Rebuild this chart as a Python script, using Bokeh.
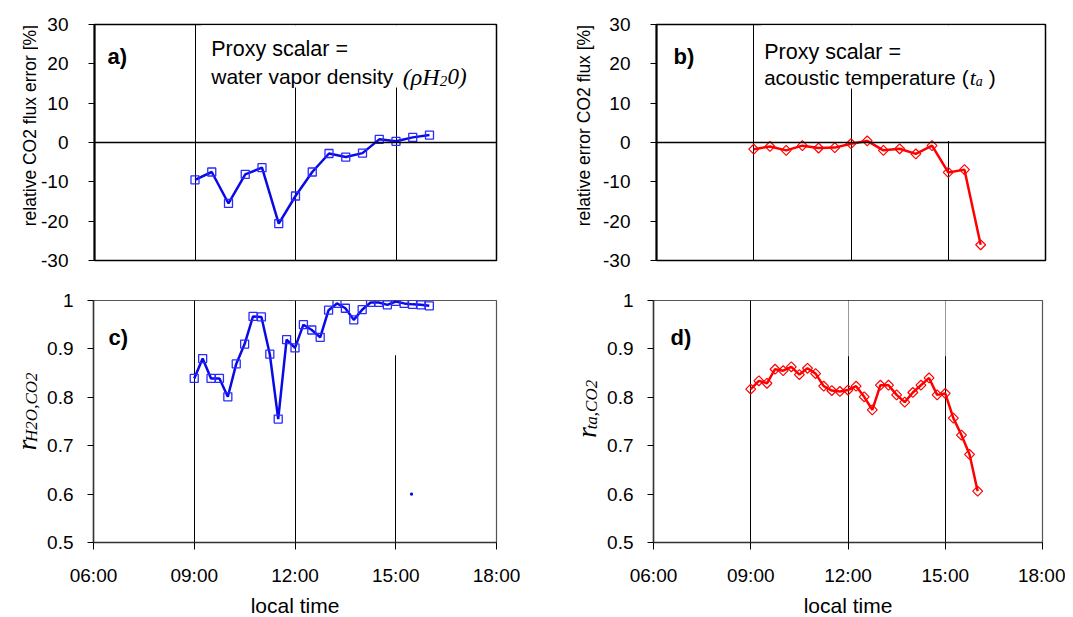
import math
from bokeh.plotting import figure
from bokeh.layouts import column, row
from bokeh.models import Range1d, FixedTicker, Span, Label, BoxAnnotation, NumeralTickFormatter
from bokeh.embed import file_html
from bokeh.resources import INLINE

# ---------------- data ----------------
hours_half = [9.0, 9.5, 10.0, 10.5, 11.0, 11.5, 12.0, 12.5, 13.0, 13.5, 14.0, 14.5, 15.0, 15.5, 16.0]
err_h2o = [-9.5, -7.5, -15.5, -8.1, -6.4, -20.6, -13.6, -7.5, -2.8, -3.7, -2.7, 0.8, 0.3, 1.3, 1.9]
err_ta = [-1.7, -1.0, -2.0, -0.8, -1.4, -1.3, -0.3, 0.4, -2.0, -1.6, -2.9, -0.8, -7.6, -6.9, -26.0]

hours_quarter = [9.0, 9.25, 9.5, 9.75, 10.0, 10.25, 10.5, 10.75, 11.0, 11.25, 11.5, 11.75,
                 12.0, 12.25, 12.5, 12.75, 13.0, 13.25, 13.5, 13.75, 14.0, 14.25, 14.5, 14.75,
                 15.0, 15.25, 15.5, 15.75, 16.0]
r_h2o = [0.839, 0.880, 0.839, 0.839, 0.801, 0.869, 0.910, 0.967, 0.966, 0.889, 0.755, 0.919,
         0.902, 0.950, 0.939, 0.924, 0.980, 0.994, 0.984, 0.960, 0.981, 0.996, 0.996, 0.991,
         0.998, 0.994, 0.992, 0.991, 0.989]
r_ta = [0.817, 0.834, 0.829, 0.858, 0.855, 0.863, 0.847, 0.860, 0.849, 0.823, 0.814, 0.812,
        0.815, 0.823, 0.801, 0.774, 0.825, 0.825, 0.805, 0.790, 0.810, 0.825, 0.840, 0.805,
        0.808, 0.757, 0.722, 0.682, 0.606]
stray_hour = [15.47]
stray_r = [0.6]

time_ticks = [6, 9, 12, 15, 18]
time_labels = ["06:00", "09:00", "12:00", "15:00", "18:00"]
grid_hours = [9, 12, 15]
err_ticks = [-30, -20, -10, 0, 10, 20, 30]
err_labels = ["-30", "-20", "-10", "0", "10", "20", "30"]
r_ticks = [0.5, 0.6, 0.7, 0.8, 0.9, 1.0]

BLUE = "#0a0ae6"
RED = "#ff0000"
SANS = "Liberation Sans"
SERIF = "Liberation Serif"

# frame geometry in page pixels (for placing annotations)
GEOM = {
    "a": (93, 24, 496, 260, 6, 18, -30, 30),
    "b": (655, 24, 1045, 260, 6, 18, -30, 30),
    "c": (93, 300, 496, 544, 6, 18, 0.5, 1.0),
    "d": (653, 299, 1042, 542, 6, 18, 0.5, 1.0),
}
ORIGINS = {}


def to_data(panel, px, py):
    x0, y0, x1, y1, xs, xe, ys, ye = GEOM[panel]
    return xs + (px - x0) / (x1 - x0) * (xe - xs), ye - (py - y0) / (y1 - y0) * (ye - ys)


def mk_label(x, y, text, size, font=SANS, style="normal", align="left", baseline="alphabetic", angle=0.0):
    return Label(x=x, y=y, text=text, text_font=font, text_font_size=f"{size}px",
                 text_font_style=style, text_align=align, text_baseline=baseline,
                 angle=angle, angle_units="rad", text_color="black")


def add_text(p, panel, px, py, text, size, **kw):
    x, y = to_data(panel, px, py)
    p.add_layout(mk_label(x, y, text, size, **kw))


def gutter(name, x0, y0, w, h):
    g = figure(width=w, height=h, x_range=Range1d(0, w), y_range=Range1d(h, 0),
               output_backend="svg", toolbar_location=None, min_border=0,
               x_axis_location=None, y_axis_location=None)
    g.outline_line_color = None
    g.background_fill_color = "white"
    g.border_fill_color = "white"
    g.xgrid.visible = False
    g.ygrid.visible = False
    ORIGINS[name] = (x0, y0)
    return g


def gtext(g, name, px, py, text, size, **kw):
    x0, y0 = ORIGINS[name]
    g.add_layout(mk_label(px - x0, py - y0, text, size, **kw))


def make_fig(w, h, ml, mr, mt, mb, yr, top):
    p = figure(width=w, height=h, x_range=Range1d(6, 18), y_range=Range1d(*yr),
               output_backend="svg", toolbar_location=None,
               min_border_left=ml, min_border_right=mr, min_border_top=mt, min_border_bottom=mb)
    p.background_fill_color = "white"
    p.border_fill_color = "white"
    p.outline_line_color = "black" if top else "#555555"
    p.outline_line_width = 1.5 if top else 1.2
    p.ygrid.visible = False
    p.xgrid.ticker = FixedTicker(ticks=grid_hours)
    p.xgrid.grid_line_color = "black"
    p.xgrid.grid_line_width = 1
    ya = p.yaxis[0]
    ya.major_label_text_font = SANS
    ya.major_label_text_font_size = "19px"
    ya.major_label_text_color = "black"
    ya.major_tick_out = 6
    ya.major_tick_in = 0
    ya.minor_tick_line_color = None
    ya.axis_line_width = 2 if top else 1.5
    ya.axis_line_color = "black" if top else "#333333"
    if top:
        ya.ticker = FixedTicker(ticks=err_ticks)
        ya.major_label_overrides = {t: l for t, l in zip(err_ticks, err_labels)}
        ya.major_label_standoff = 20
    else:
        ya.ticker = FixedTicker(ticks=r_ticks)
        ya.formatter = NumeralTickFormatter(format="0.[0]")
        ya.major_label_standoff = 14
    xa = p.xaxis[0]
    if top:
        xa.visible = False
        p.add_layout(Span(location=0, dimension="width", line_color="black", line_width=1.5))
    else:
        xa.ticker = FixedTicker(ticks=time_ticks)
        xa.major_label_overrides = {t: l for t, l in zip(time_ticks, time_labels)}
        xa.major_label_text_font = SANS
        xa.major_label_text_font_size = "19px"
        xa.major_label_text_color = "black"
        xa.major_tick_out = 7
        xa.major_tick_in = 0
        xa.minor_tick_line_color = None
        xa.axis_line_width = 1.5
        xa.axis_line_color = "#333333"
        xa.major_label_standoff = 15
    return p


def cover(p, left, right, bottom, top, alpha=1.0):
    p.add_layout(BoxAnnotation(left=left, right=right, bottom=bottom, top=top, fill_color="white",
                               fill_alpha=alpha, line_alpha=0, level="underlay"))


# ---------------- row 1 ----------------
gA = gutter("A", 0, 0, 38, 280)
gtext(gA, "A", 29, 120, "relative CO2 flux error [%]", 17.5, align="center", baseline="middle", angle=math.pi / 2)

pa = make_fig(527, 280, 55, 69, 24, 20, (-30, 30), True)
xb, yb = to_data("a", 200, 87)
cover(pa, xb, 17.95, yb, 29.8)
pa.line(hours_half, err_h2o, line_color=BLUE, line_width=2.5)
pa.scatter(hours_half, err_h2o, marker="square", size=8, fill_color=None, line_color="#2a2aff", line_width=1.3)
add_text(pa, "a", 106, 56, "a)", 22, style="bold")
add_text(pa, "a", 210, 48, "Proxy scalar =", 21.5)
add_text(pa, "a", 210, 76, "water vapor density", 21)
add_text(pa, "a", 402, 76, "(ρH", 24, font=SERIF, style="italic")
add_text(pa, "a", 439, 80, "2", 15, font=SERIF, style="italic")
add_text(pa, "a", 447, 76, "0)", 23, font=SERIF, style="italic")

gB = gutter("B", 565, 0, 35, 280)
gtext(gB, "B", 583, 120, "relative error CO2 flux [%]", 17.5, align="center", baseline="middle", angle=math.pi / 2)

pb = make_fig(465, 280, 55, 20, 24, 20, (-30, 30), True)
xb, yb = to_data("b", 760, 88)
cover(pb, xb, 17.95, yb, 29.8)
cover(pb, 14.9, 15.1, 0.4, yb)
pb.line(hours_half, err_ta, line_color=RED, line_width=2.5)
pb.scatter(hours_half, err_ta, marker="square", angle=math.pi / 4, size=7, fill_color=None,
           line_color=RED, line_width=1.2)
add_text(pb, "b", 672, 56, "b)", 22, style="bold")
add_text(pb, "b", 763, 51, "Proxy scalar =", 21.5)
add_text(pb, "b", 763, 77, "acoustic temperature", 20.5)
add_text(pb, "b", 961, 77, "(", 21)
add_text(pb, "b", 969, 77, "t", 22, font=SERIF, style="italic")
add_text(pb, "b", 975, 81, "a", 14, font=SERIF, style="italic")
add_text(pb, "b", 988, 77, ")", 21)

# ---------------- row 2 ----------------
gC = gutter("C", 0, 280, 42, 308)
gtext(gC, "C", 26, 471, "r", 28, font=SERIF, style="italic", angle=math.pi / 2)
gtext(gC, "C", 31, 460, "H2O,CO2", 17, font=SERIF, style="italic", angle=math.pi / 2)

pc = make_fig(523, 308, 51, 69, 20, 44, (0.5, 1.0), False)
cover(pc, 14.9, 15.1, 0.887, 0.999)
pc.line(hours_quarter, r_h2o, line_color=BLUE, line_width=2.5)
pc.scatter(hours_quarter, r_h2o, marker="square", size=8, fill_color=None, line_color="#2a2aff", line_width=1.3)
pc.scatter(stray_hour, stray_r, marker="square", size=2, fill_color=BLUE, line_color=BLUE)
add_text(pc, "c", 108, 337, "c)", 22, style="bold")

gD = gutter("D", 565, 280, 39, 308)
gtext(gD, "D", 586, 455, "r", 28, font=SERIF, style="italic", angle=math.pi / 2)
gtext(gD, "D", 591, 444, "ta,CO2", 17, font=SERIF, style="italic", angle=math.pi / 2)

pd_ = make_fig(461, 308, 49, 23, 19, 46, (0.5, 1.0), False)
cover(pd_, 11.9, 12.1, 0.885, 0.999, 0.6)
cover(pd_, 14.9, 15.1, 0.885, 0.999, 0.6)
pd_.line(hours_quarter, r_ta, line_color=RED, line_width=2.5)
pd_.scatter(hours_quarter, r_ta, marker="square", angle=math.pi / 4, size=7, fill_color=None,
            line_color=RED, line_width=1.2)
add_text(pd_, "d", 670, 336, "d)", 22, style="bold")

# ---------------- row 3 ----------------
gE = gutter("E", 0, 588, 1073, 28)
gtext(gE, "E", 294.5, 605, "local time", 21, align="center", baseline="middle")
gtext(gE, "E", 847.5, 605, "local time", 21, align="center", baseline="middle")

layout = column(row(gA, pa, gB, pb), row(gC, pc, gD, pd_), gE)
open("out.html", "w").write(file_html(layout, INLINE))
